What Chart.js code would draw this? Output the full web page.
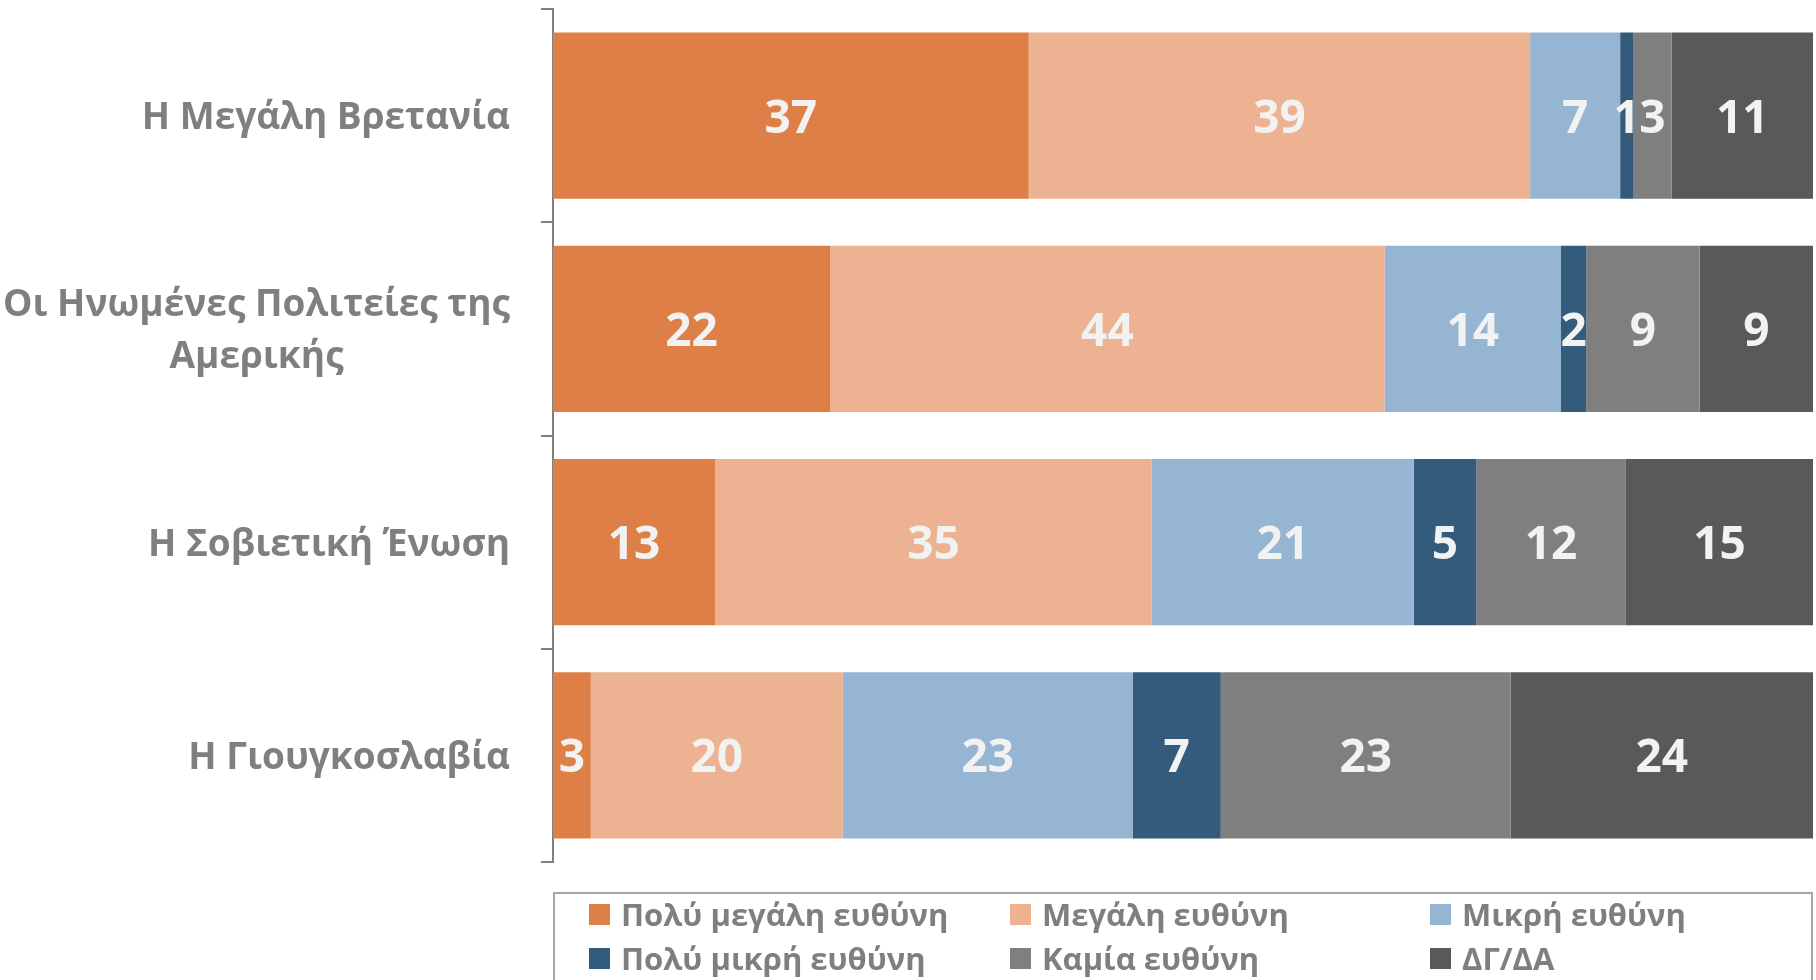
<!DOCTYPE html>
<html>
<head>
<meta charset="utf-8">
<script src="https://cdn.jsdelivr.net/npm/chart.js@4.4.1/dist/chart.umd.min.js"></script>
<style>
  html, body { margin: 0; padding: 0; background: #fff; overflow: hidden; }
  #wrap { position: relative; width: 1816px; height: 980px; }
  #legend { position: absolute; left: 553px; top: 892px; width: 1260px; height: 120px;
            border: 2px solid #a6a6a6; box-sizing: border-box; }
  .item { position: absolute; display: flex; align-items: center; height: 40px;
          font: bold 31px "Open Sans", sans-serif;
          color: #7f7f7f; white-space: nowrap; }
  .item .box { width: 21px; height: 21px; margin-right: 11px; }
</style>
</head>
<body>
<div id="wrap">
  <canvas id="chart" width="1816" height="980"></canvas>
  <div id="legend"></div>
</div>
<script>
const categories = [
  ["Η Μεγάλη Βρετανία"],
  ["Οι Ηνωμένες Πολιτείες της", "Αμερικής"],
  ["Η Σοβιετική Ένωση"],
  ["Η Γιουγκοσλαβία"]
];
const seriesNames = ["Πολύ μεγάλη ευθύνη", "Μεγάλη ευθύνη", "Μικρή ευθύνη",
                     "Πολύ μικρή ευθύνη", "Καμία ευθύνη", "ΔΓ/ΔΑ"];
const veryLarge = [37, 22, 13, 3];
const large     = [39, 44, 35, 20];
const small     = [7, 14, 21, 23];
const verySmall = [1, 2, 5, 7];
const noneAtAll = [3, 9, 12, 23];
const dkna      = [11, 9, 15, 24];
const colours = ["#dd7f47", "#ecb292", "#95b5d3", "#345b7b", "#7f7f7f", "#595959"];

const series = [veryLarge, large, small, verySmall, noneAtAll, dkna];

// 100% stacked: each row is scaled to its own total
const totals = categories.map((c, j) => series.reduce((s, arr) => s + arr[j], 0));

const datasets = series.map((arr, i) => ({
  label: seriesNames[i],
  raw: arr,
  data: arr.map((v, j) => v / totals[j] * 100),
  backgroundColor: colours[i],
  borderWidth: 0,
  barPercentage: 0.78,
  categoryPercentage: 1
}));

// value labels in the middle of each segment
const valueLabels = {
  id: 'valueLabels',
  afterDatasetsDraw(chart) {
    const ctx = chart.ctx;
    ctx.save();
    ctx.font = 'bold 46px "Open Sans"';
    ctx.fillStyle = '#f2f2f2';
    ctx.textAlign = 'center';
    ctx.textBaseline = 'middle';
    chart.data.datasets.forEach((ds, i) => {
      chart.getDatasetMeta(i).data.forEach((bar, j) => {
        ctx.fillText(String(ds.raw[j]), (bar.x + bar.base) / 2, bar.y + 4);
      });
    });
    ctx.restore();
  }
};

// category names: block right aligned, lines centred within the block
const categoryLabels = {
  id: 'categoryLabels',
  afterDraw(chart) {
    const ctx = chart.ctx;
    const yScale = chart.scales.y;
    const right = 510;
    const lineH = 52;
    ctx.save();
    ctx.font = 'bold 37px "Open Sans"';
    ctx.fillStyle = '#7f7f7f';
    ctx.textAlign = 'center';
    ctx.textBaseline = 'middle';
    categories.forEach((lines, j) => {
      const widest = Math.max(...lines.map(l => ctx.measureText(l).width));
      const cx = right - widest / 2;
      const cy = yScale.getPixelForValue(j) + 3;
      lines.forEach((l, k) => {
        ctx.fillText(l, cx, cy + (k - (lines.length - 1) / 2) * lineH);
      });
    });
    ctx.restore();
  }
};

new Chart(document.getElementById('chart'), {
  type: 'bar',
  data: { labels: categories.map(c => c.join(' ')), datasets },
  options: {
    indexAxis: 'y',
    responsive: false,
    animation: false,
    layout: { padding: { top: 9, right: 3, bottom: 118, left: 0 } },
    plugins: { legend: { display: false }, tooltip: { enabled: false } },
    scales: {
      x: { stacked: true, min: 0, max: 100, display: false },
      y: {
        stacked: true,
        ticks: { display: false },
        grid: { drawOnChartArea: false, drawTicks: true, tickLength: 12,
                color: '#808080', lineWidth: 2, offset: true },
        border: { display: true, color: '#808080', width: 2 },
        afterFit(scale) { scale.width = 553; }
      }
    }
  },
  plugins: [valueLabels, categoryLabels]
});

// legend: 3 columns, 2 rows
const legend = document.getElementById('legend');
const colX = [34, 455, 875];
const rowY = [0, 44];
seriesNames.forEach((name, i) => {
  const item = document.createElement('div');
  item.className = 'item';
  item.style.left = colX[i % 3] + 'px';
  item.style.top = rowY[Math.floor(i / 3)] + 'px';
  const box = document.createElement('span');
  box.className = 'box';
  box.style.background = colours[i];
  const txt = document.createElement('span');
  txt.textContent = name;
  item.appendChild(box);
  item.appendChild(txt);
  legend.appendChild(item);
});
</script>
</body>
</html>
